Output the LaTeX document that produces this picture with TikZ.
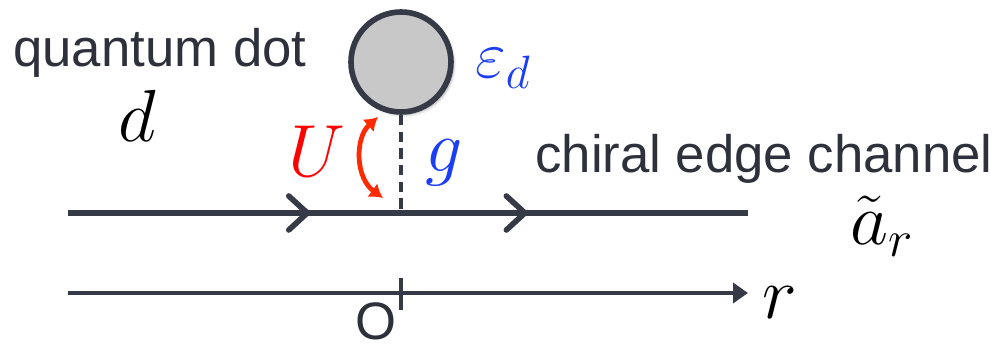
\RequirePackage{fix-cm}
\documentclass[tikz,border=0pt]{standalone}
\usepackage{fontspec}
\setsansfont{Liberation Sans}
\usepackage{tikz}
\usetikzlibrary{arrows.meta,decorations.markings,shadows.blur}
\definecolor{ink}{HTML}{363A46}
\definecolor{dotgray}{HTML}{C8C8C8}
\definecolor{cblue}{HTML}{1A3DF5}
\definecolor{cred}{HTML}{FF0000}
\definecolor{arrred}{HTML}{FF2A00}
\tikzset{
  dot/.style={circle,draw=ink,fill=dotgray,line width=3.2pt,minimum size=2.0cm,inner sep=0pt,blur shadow={shadow xshift=1.5pt,shadow yshift=-1.5pt,shadow blur steps=5,shadow opacity=35}},
  channel/.style={draw=ink,line width=3.2pt,postaction={decorate},decoration={markings,
      mark=at position 0.356 with {\arrow{Straight Barb[length=3.7mm,width=6.8mm,line join=round,line cap=round]}},
      mark=at position 0.676 with {\arrow{Straight Barb[length=3.7mm,width=6.8mm,line join=round,line cap=round]}}}},
  coupling/.style={draw=ink,line width=2.3pt,dash pattern=on 6pt off 3.5pt},
  axis/.style={draw=ink,line width=2.1pt,-{Triangle[length=3mm,width=4mm]}},
  tick/.style={draw=ink,line width=2.1pt},
  swap/.style={draw=arrred,line width=2.7pt,{Latex[length=2.6mm,width=3.4mm]}-{Latex[length=2.6mm,width=3.4mm]}},
  word/.style={font=\sffamily\fontsize{30}{36}\selectfont,text=ink!85!black,inner sep=0pt},
  sym/.style={font=\fontsize{42}{50}\selectfont,inner sep=0pt},
}
\begin{document}
\begin{tikzpicture}
  \useasboundingbox (0,0) rectangle (19.96,6.9);
  % quantum dot and its coupling
  \node[dot] (qd) at (8.02,5.66) {};
  \coordinate (chL) at (1.36,2.64);
  \coordinate (chR) at (14.96,2.64);
  \coordinate (o) at (8.02,2.64);
  \draw[coupling] (qd.south) -- (o);
  \draw[channel] (chL) -- (chR);
  % position axis
  \coordinate (axL) at (1.36,1.04);
  \coordinate (axR) at (14.96,1.04);
  \coordinate (tkT) at (8.02,1.34);
  \coordinate (tkB) at (8.02,0.70);
  \draw[axis] (axL) -- (axR);
  \draw[tick] (tkT) -- (tkB);
  % interaction arrow
  \coordinate (uB) at (7.66,2.94);
  \coordinate (uT) at (7.56,4.56);
  \draw[swap] (uB) .. controls (7.1,3.35) and (7.1,4.15) .. (uT);
  % labels
  \node[word,anchor=base west] (qdlbl) at (0.26,5.56) {quantum dot};
  \node[sym,anchor=base west] (dlbl) at (2.36,4.06) {$d$};
  \node[sym,anchor=base west,text=cred] (ulbl) at (5.76,3.36) {$U$};
  \node[sym,anchor=base west,text=cblue] (glbl) at (8.5,3.46) {$g$};
  \node[sym,anchor=base west,text=cblue,font=\fontsize{38}{46}\selectfont] (elbl) at (9.5,5.34) {$\varepsilon_d$};
  \node[word,anchor=base west] (chlbl) at (10.7,3.44) {chiral edge channel};
  \node[sym,anchor=base west] (albl) at (17.0,2.0) {$\tilde{a}_r$};
  \node[sym,anchor=base west] (rlbl) at (15.24,0.52) {$r$};
  \node[word,anchor=base] (olbl) at (7.52,0.1) {O};
\end{tikzpicture}
\end{document}
